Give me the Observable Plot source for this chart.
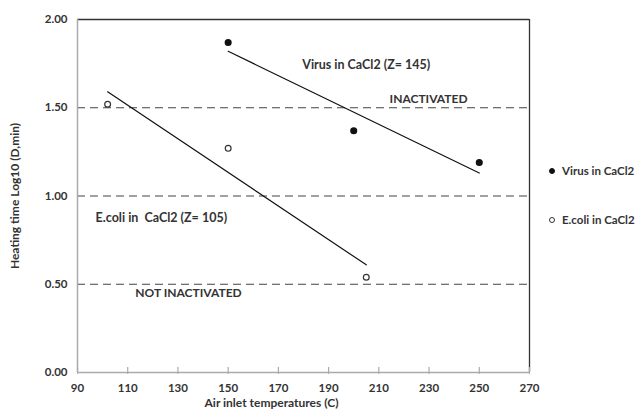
<!DOCTYPE html>
<html>
<head>
<meta charset="utf-8">
<script src="https://cdn.jsdelivr.net/npm/d3@7"></script>
<script src="https://cdn.jsdelivr.net/npm/@observablehq/plot@0.6"></script>
<style>
  body { margin: 0; background: #fff; }
  #wrap { position: relative; width: 636px; height: 410px; overflow: hidden; font-family: Lato, "Open Sans", sans-serif; }
  .leg { position: absolute; left: 549px; font-size: 11.5px; font-weight: 700; color: #333; white-space: nowrap; display: flex; align-items: center; }
  .leg .sw { width: 6px; height: 6px; border-radius: 50%; margin-right: 7px; box-sizing: border-box; }
</style>
</head>
<body>
<div id="wrap"></div>
<script>
// Data
const virusTemp = [150, 200, 250];
const virusLog = [1.87, 1.37, 1.19];
const ecoliTemp = [102, 150, 205];
const ecoliLog = [1.52, 1.27, 0.54];
// fitted trend lines (end points)
const virusFitTemp = [150, 250];
const virusFitLog = [1.82, 1.13];
const ecoliFitTemp = [102, 205];
const ecoliFitLog = [1.59, 0.61];
const thresholds = [0.5, 1.0, 1.5];
const xTicks = [90, 110, 130, 150, 170, 190, 210, 230, 250, 270];
const yTicks = [0, 0.5, 1.0, 1.5, 2.0];
// annotations
const seriesLabelText = ["Virus in CaCl2 (Z= 145)", "E.coli in  CaCl2 (Z= 105)"];
const seriesLabelX = [179.5, 97.2];
const seriesLabelY = [1.74, 0.875];
const zoneText = ["INACTIVATED", "NOT INACTIVATED"];
const zoneX = [229.8, 134.2];
const zoneY = [1.55, 0.45];
const seriesNames = ["Virus in CaCl2", "E.coli in CaCl2"];

const virus = virusTemp.map((t, i) => ({t, v: virusLog[i]}));
const ecoli = ecoliTemp.map((t, i) => ({t, v: ecoliLog[i]}));
const vFit = virusFitTemp.map((t, i) => ({t, v: virusFitLog[i]}));
const eFit = ecoliFitTemp.map((t, i) => ({t, v: ecoliFitLog[i]}));
const seriesAnn = seriesLabelText.map((s, i) => ({s, x: seriesLabelX[i], y: seriesLabelY[i]}));
const zoneAnn = zoneText.map((s, i) => ({s, x: zoneX[i], y: zoneY[i]}));

const txt = "#333";
const chart = Plot.plot({
  width: 636,
  height: 410,
  marginLeft: 77,
  marginRight: 107,
  marginTop: 19,
  marginBottom: 38,
  style: {fontFamily: "Lato, 'Open Sans', sans-serif", fontSize: "11px", fontWeight: "700", color: txt, background: "#fff"},
  x: {domain: [90, 270]},
  y: {domain: [0, 2]},
  marks: [
    Plot.ruleY(thresholds, {stroke: "#444", strokeWidth: 1.2, strokeDasharray: "8,5"}),
    Plot.ruleY([2], {stroke: "#333", strokeWidth: 1.3}),
    Plot.ruleX([270], {stroke: "#333", strokeWidth: 1.3}),
    Plot.ruleX([90], {stroke: "#aaa", strokeWidth: 1.5}),
    Plot.ruleY([0], {stroke: "#aaa", strokeWidth: 1.5}),
    Plot.axisX({ticks: xTicks, tickSize: 2, tickPadding: 9, stroke: "#aaa", label: null, tickFormat: d => d, fill: txt, fontWeight: "700", fontSize: 11.5}),
    Plot.ruleX(xTicks, {y1: 0, y2: 0.028, stroke: "#aaa", strokeWidth: 1.2}),
    Plot.axisY({ticks: yTicks, tickSize: 0, tickPadding: 10, label: null, tickFormat: d3.format(".2f"), fill: txt, fontWeight: "700", fontSize: 11.5}),
    Plot.line(vFit, {x: "t", y: "v", stroke: "#111", strokeWidth: 1.2}),
    Plot.line(eFit, {x: "t", y: "v", stroke: "#111", strokeWidth: 1.2}),
    Plot.dot(virus, {x: "t", y: "v", r: 2.8, fill: "#111", stroke: "#111"}),
    Plot.dot(ecoli, {x: "t", y: "v", r: 2.9, fill: "#fff", stroke: "#333", strokeWidth: 1.2}),
    Plot.text(seriesAnn, {x: "x", y: "y", text: "s", textAnchor: "start", fill: txt, fontSize: 12.5, fontWeight: "700"}),
    Plot.text(zoneAnn, {x: "x", y: "y", text: "s", textAnchor: "middle", fill: txt, fontSize: 12, fontWeight: "700"}),
    Plot.text(["Air inlet temperatures (C)"], {frameAnchor: "bottom", lineAnchor: "middle", textAnchor: "middle", dx: -32, dy: 31, fill: txt, fontSize: 12, fontWeight: "700"}),
    Plot.text(["Heating time Log10 (D,min)"], {frameAnchor: "left", lineAnchor: "middle", textAnchor: "middle", rotate: -90, dx: -62, fill: txt, fontSize: 12, fontWeight: "700"})
  ]
});
const wrap = document.getElementById("wrap");
wrap.appendChild(chart);
const legY = [172, 221];
const legFill = ["#111", "#fff"];
const legStroke = ["#111", "#333"];
seriesNames.forEach((n, i) => {
  const d = document.createElement("div");
  d.className = "leg";
  d.style.top = (legY[i] - 8) + "px";
  d.innerHTML = `<span class="sw" style="background:${legFill[i]};border:1.2px solid ${legStroke[i]}"></span>${n}`;
  wrap.appendChild(d);
});
</script>
</body>
</html>
